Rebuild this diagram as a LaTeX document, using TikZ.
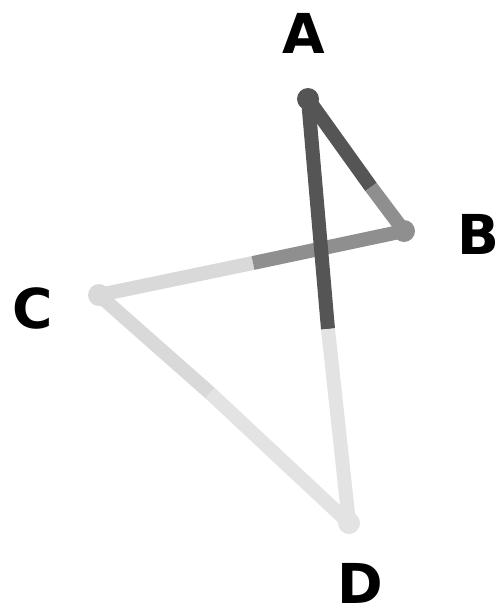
\documentclass[tikz,border=0pt]{standalone}
\usepackage{fontspec}
\setmainfont{DejaVu Sans}
\usepackage{tikz}
\usetikzlibrary{calc}
\definecolor{shadeA}{RGB}{85,85,85}
\definecolor{shadeB}{RGB}{143,143,143}
\definecolor{shadeC}{RGB}{217,217,217}
\definecolor{shadeD}{RGB}{227,227,227}

\begin{document}
\begin{tikzpicture}[x=1pt, y=-1pt,
    edge/.style={line width=14pt, line cap=butt},
    vertex/.style={circle, inner sep=0pt, minimum size=22pt},
    lab/.style={font=\fontsize{55}{55}\selectfont\bfseries, text=black}]
  \useasboundingbox (0,0) rectangle (499,615);
  % positions of the vertices
  \coordinate (pA) at (308,99);
  \coordinate (pB) at (404,231);
  \coordinate (pC) at (99,295);
  \coordinate (pD) at (349,523);
  % where each edge changes shade
  \coordinate (sAB) at (371,187);
  \coordinate (sAD) at (328,329);
  \coordinate (sBC) at (253,263);
  \coordinate (sCD) at (210,393);
  % edges, two halves each
  \draw[edge, shadeC] (pC) -- (sCD);
  \draw[edge, shadeD] (sCD) -- (pD);
  \draw[edge, shadeC] (pC) -- (sBC);
  \draw[edge, shadeB] (sBC) -- (pB);
  \draw[edge, shadeA] (pA) -- (sAD);
  \draw[edge, shadeD] (sAD) -- (pD);
  \draw[edge, shadeA] (pA) -- (sAB);
  \draw[edge, shadeB] (sAB) -- (pB);
  % vertices
  \node[vertex, fill=shadeA] (A) at (pA) {};
  \node[vertex, fill=shadeB] (B) at (pB) {};
  \node[vertex, fill=shadeC] (C) at (pC) {};
  \node[vertex, fill=shadeD] (D) at (pD) {};
  % labels
  \node[lab] (labA) at (304,33) {A};
  \node[lab] (labB) at (478,234) {B};
  \node[lab] (labC) at (33,308) {C};
  \node[lab] (labD) at (360,583) {D};
\end{tikzpicture}
\end{document}
